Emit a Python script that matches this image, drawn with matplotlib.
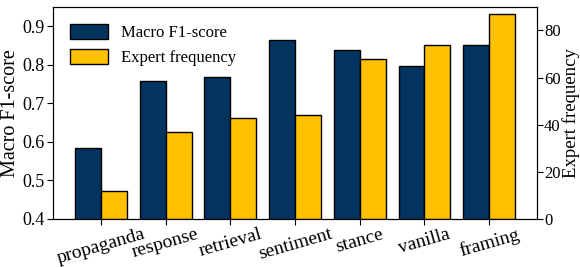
import matplotlib
matplotlib.use("Agg")
import matplotlib.pyplot as plt
import numpy as np

plt.rcParams['font.family'] = ['Liberation Serif', 'DejaVu Serif']

categories = ["propaganda", "response", "retrieval", "sentiment", "stance", "vanilla", "framing"]
f1_scores = [0.585, 0.757, 0.768, 0.864, 0.838, 0.798, 0.852]
expert_freq = [12, 37, 43, 44, 68, 74, 87]

navy = "#03345f"
gold = "#ffc000"

fig, ax = plt.subplots(figsize=(5.8, 2.67), dpi=100)
ax2 = ax.twinx()
x = np.arange(len(categories))
w = 0.4
b1 = ax.bar(x, f1_scores, width=-w, align='edge', color=navy, edgecolor='black', linewidth=1, label="Macro F1-score")
b2 = ax2.bar(x, expert_freq, width=w, align='edge', color=gold, edgecolor='black', linewidth=1, label="Expert frequency")
ax.set_ylim(0.4, 0.95)
ax2.set_ylim(0, 90)
ax.set_xlim(-0.74, 6.74)
ax.set_xticks(x)
ax.set_xticklabels(categories, rotation=16, fontsize=14)
ax.tick_params(axis='x', pad=1, length=4)
ax.set_yticks([0.4, 0.5, 0.6, 0.7, 0.8, 0.9])
ax.tick_params(axis='y', labelsize=13, pad=2, length=4)
ax2.set_yticks([0, 20, 40, 60, 80])
ax2.tick_params(axis='y', labelsize=12, pad=1, length=4)
ax.set_ylabel("Macro F1-score", fontsize=14.5, labelpad=2)
ax2.set_ylabel("Expert frequency", fontsize=13.5, labelpad=1)
ax.legend([b1, b2], ["Macro F1-score", "Expert frequency"], loc='upper left', frameon=False,
          fontsize=12, handlelength=2.3, handleheight=1.0, borderaxespad=0.6)
fig.subplots_adjust(left=0.0914, right=0.926, top=0.974, bottom=0.18)
fig.savefig("out.png", dpi=100)
